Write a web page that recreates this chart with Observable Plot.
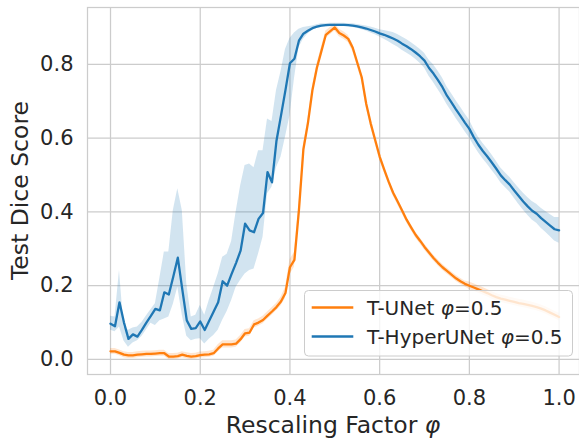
<!DOCTYPE html>
<html><head><meta charset="utf-8">
<script src="https://cdn.jsdelivr.net/npm/d3@7"></script>
<script src="https://cdn.jsdelivr.net/npm/@observablehq/plot@0.6"></script>
<style>body{margin:0;background:#fff;} #chart{width:579px;height:438px;}</style>
</head><body><div id="chart"></div>
<script>
const phi = [0.00,0.01,0.02,0.03,0.04,0.05,0.06,0.07,0.08,0.09,
  0.10,0.11,0.12,0.13,0.14,0.15,0.16,0.17,0.18,0.19,
  0.20,0.21,0.22,0.23,0.24,0.25,0.26,0.27,0.28,0.29,
  0.30,0.31,0.32,0.33,0.34,0.35,0.36,0.37,0.38,0.39,
  0.40,0.41,0.42,0.43,0.44,0.45,0.46,0.47,0.48,0.49,
  0.50,0.51,0.52,0.53,0.54,0.55,0.56,0.57,0.58,0.59,
  0.60,0.61,0.62,0.63,0.64,0.65,0.66,0.67,0.68,0.69,
  0.70,0.71,0.72,0.73,0.74,0.75,0.76,0.77,0.78,0.79,
  0.80,0.81,0.82,0.83,0.84,0.85,0.86,0.87,0.88,0.89,
  0.90,0.91,0.92,0.93,0.94,0.95,0.96,0.97,0.98,0.99,
  1.00];

const hyperMean = [0.097,0.090,0.155,0.100,0.056,0.068,0.062,0.080,0.100,0.118,
  0.137,0.133,0.182,0.176,0.225,0.276,0.190,0.106,0.083,0.085,
  0.103,0.080,0.105,0.130,0.155,0.212,0.200,0.232,0.262,0.295,
  0.368,0.350,0.345,0.381,0.397,0.508,0.480,0.593,0.661,0.730,
  0.803,0.815,0.864,0.883,0.891,0.898,0.902,0.905,0.906,0.907,
  0.907,0.907,0.907,0.906,0.905,0.903,0.900,0.897,0.893,0.889,
  0.884,0.880,0.875,0.870,0.864,0.856,0.849,0.841,0.832,0.822,
  0.810,0.790,0.775,0.757,0.738,0.715,0.697,0.678,0.660,0.642,
  0.625,0.602,0.582,0.565,0.550,0.534,0.517,0.499,0.486,0.474,
  0.458,0.443,0.428,0.415,0.403,0.395,0.383,0.373,0.363,0.353,
  0.350];

const hyperLo = [0.079,0.075,0.088,0.050,0.033,0.045,0.051,0.062,0.080,0.098,
  0.092,0.105,0.110,0.115,0.150,0.196,0.120,0.063,0.051,0.055,
  0.056,0.042,0.055,0.065,0.079,0.106,0.130,0.160,0.196,0.215,
  0.232,0.241,0.245,0.286,0.331,0.449,0.467,0.520,0.548,0.602,
  0.660,0.760,0.845,0.868,0.882,0.892,0.897,0.900,0.902,0.903,
  0.903,0.903,0.903,0.902,0.900,0.898,0.894,0.890,0.885,0.880,
  0.874,0.868,0.861,0.854,0.847,0.838,0.831,0.823,0.814,0.803,
  0.790,0.768,0.751,0.732,0.713,0.691,0.673,0.654,0.636,0.618,
  0.601,0.580,0.561,0.544,0.529,0.513,0.497,0.479,0.466,0.454,
  0.437,0.421,0.405,0.391,0.378,0.369,0.356,0.345,0.333,0.321,
  0.315];

const hyperHi = [0.117,0.115,0.241,0.088,0.079,0.085,0.088,0.100,0.118,0.135,
  0.151,0.220,0.291,0.291,0.404,0.463,0.404,0.205,0.115,0.120,
  0.146,0.120,0.160,0.195,0.232,0.277,0.285,0.320,0.400,0.470,
  0.526,0.530,0.520,0.566,0.566,0.652,0.645,0.729,0.780,0.840,
  0.870,0.885,0.895,0.900,0.902,0.904,0.907,0.910,0.910,0.911,
  0.911,0.911,0.911,0.910,0.910,0.908,0.906,0.904,0.901,0.898,
  0.894,0.892,0.889,0.886,0.881,0.874,0.867,0.859,0.850,0.841,
  0.830,0.812,0.799,0.782,0.763,0.739,0.721,0.702,0.684,0.666,
  0.649,0.624,0.603,0.586,0.571,0.555,0.537,0.519,0.506,0.494,
  0.479,0.465,0.451,0.439,0.428,0.421,0.410,0.401,0.393,0.385,
  0.385];

const unetMean = [0.022,0.022,0.018,0.013,0.011,0.011,0.013,0.014,0.015,0.015,
  0.016,0.017,0.017,0.008,0.008,0.009,0.013,0.010,0.008,0.009,
  0.012,0.013,0.014,0.017,0.030,0.041,0.041,0.041,0.043,0.055,
  0.071,0.073,0.095,0.100,0.107,0.119,0.130,0.142,0.157,0.180,
  0.250,0.270,0.404,0.570,0.640,0.729,0.790,0.835,0.880,0.890,
  0.900,0.885,0.878,0.869,0.845,0.805,0.765,0.693,0.640,0.595,
  0.550,0.515,0.482,0.452,0.428,0.404,0.379,0.358,0.338,0.322,
  0.305,0.290,0.275,0.262,0.250,0.240,0.230,0.220,0.212,0.205,
  0.200,0.195,0.190,0.185,0.180,0.174,0.169,0.165,0.162,0.159,
  0.156,0.153,0.151,0.148,0.145,0.142,0.138,0.133,0.127,0.121,
  0.115];

const unetErr = [0.008,0.008,0.008,0.008,0.008,0.008,0.008,0.008,0.008,0.008,
  0.008,0.008,0.008,0.008,0.008,0.008,0.008,0.008,0.008,0.008,
  0.008,0.008,0.008,0.008,0.010,0.010,0.010,0.010,0.010,0.010,
  0.010,0.010,0.010,0.010,0.010,0.010,0.010,0.010,0.012,0.015,
  0.020,0.020,0.015,0.010,0.010,0.010,0.010,0.010,0.010,0.010,
  0.010,0.010,0.010,0.010,0.010,0.010,0.010,0.010,0.010,0.010,
  0.010,0.008,0.008,0.008,0.008,0.008,0.008,0.008,0.008,0.008,
  0.008,0.008,0.008,0.008,0.008,0.008,0.008,0.008,0.008,0.008,
  0.010,0.010,0.010,0.010,0.010,0.010,0.010,0.010,0.010,0.010,
  0.010,0.010,0.010,0.010,0.010,0.010,0.010,0.010,0.010,0.010,
  0.010];

const xTicks = [0.0, 0.2, 0.4, 0.6, 0.8, 1.0];
const yTicks = [0.0, 0.2, 0.4, 0.6, 0.8];
const seriesNames = ["T-UNet", "T-HyperUNet"];
const seriesColors = ["#ff7f0e", "#1f77b4"];
const xLabel = "Rescaling Factor ";
const yLabel = "Test Dice Score";

const hyper = phi.map((p, i) => ({phi: p, y: hyperMean[i], lo: hyperLo[i], hi: hyperHi[i]}));
const unet = phi.map((p, i) => ({phi: p, y: unetMean[i], lo: unetMean[i] - unetErr[i], hi: unetMean[i] + unetErr[i]}));

const font = "'DejaVu Sans', sans-serif";
const grid = {stroke: "#cccccc", strokeOpacity: 1, strokeWidth: 1.25};

const plot = Plot.plot({
  width: 579, height: 438,
  marginLeft: 87, marginRight: 0, marginTop: 7, marginBottom: 64,
  style: {fontFamily: font, background: "#ffffff", color: "#262626", overflow: "visible"},
  x: {domain: [-0.0513, 1.0455]},
  y: {domain: [-0.0407, 0.954]},
  marks: [
    Plot.gridX(xTicks, grid),
    Plot.gridY(yTicks, grid),
    Plot.frame({stroke: "#cccccc", strokeWidth: 1.25}),
    Plot.areaY(hyper, {x: "phi", y1: "lo", y2: "hi", fill: seriesColors[1], fillOpacity: 0.2}),
    Plot.areaY(unet, {x: "phi", y1: "lo", y2: "hi", fill: seriesColors[0], fillOpacity: 0.2}),
    Plot.line(hyper, {x: "phi", y: "y", stroke: seriesColors[1], strokeWidth: 2.3}),
    Plot.line(unet, {x: "phi", y: "y", stroke: seriesColors[0], strokeWidth: 2.3}),
    Plot.axisX(xTicks, {tickSize: 0, tickPadding: 16, fontSize: 21, tickFormat: d3.format(".1f"), label: null}),
    Plot.axisY(yTicks, {tickSize: 0, tickPadding: 14, fontSize: 21, tickFormat: d3.format(".1f"), label: null})
  ]
});

const svg = d3.select(plot);
// axis labels
const xl = svg.append("text").attr("x", 333).attr("y", 433).attr("text-anchor", "middle")
  .attr("font-size", 23.5).attr("fill", "#262626").attr("font-family", font);
xl.append("tspan").text(xLabel);
xl.append("tspan").attr("font-style", "italic").text("φ");
svg.append("text").attr("transform", "translate(28,190.5) rotate(-90)").attr("text-anchor", "middle")
  .attr("font-size", 23.5).attr("fill", "#262626").attr("font-family", font).text(yLabel);

// legend
const lg = svg.append("g").attr("text-anchor", "start");
lg.append("rect").attr("x", 304.5).attr("y", 290.5).attr("width", 268).attr("height", 65.5).attr("rx", 4)
  .attr("fill", "#ffffff").attr("fill-opacity", 0.8).attr("stroke", "#cccccc").attr("stroke-width", 1);
seriesNames.forEach((name, i) => {
  const cy = 307.5 + i * 29;
  lg.append("line").attr("x1", 311.7).attr("x2", 353.3).attr("y1", cy).attr("y2", cy)
    .attr("stroke", seriesColors[i]).attr("stroke-width", 2.3);
  const t = lg.append("text").attr("x", 367).attr("y", cy + 7.6).attr("font-size", 20)
    .attr("text-anchor", "start").attr("fill", "#262626").attr("font-family", font);
  t.append("tspan").text(name + " ");
  t.append("tspan").attr("font-style", "italic").text("φ");
  t.append("tspan").text("=0.5");
});

document.getElementById("chart").appendChild(plot);
</script>
</body></html>
